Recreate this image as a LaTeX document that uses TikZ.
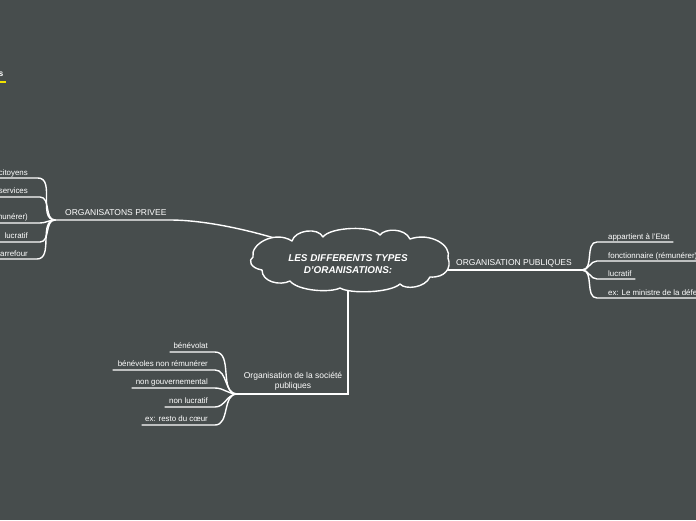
\documentclass[tikz,border=0pt]{standalone}
\usepackage{fontspec}
\setmainfont{Liberation Sans}
\definecolor{bg}{HTML}{474D4D}
\definecolor{mmyellow}{HTML}{F2E200}
\pgfdeclarelayer{bglayer}
\pgfdeclarelayer{edges}
\pgfsetlayers{bglayer,edges,main}
\begin{document}
\begin{tikzpicture}[x=1pt,y=-1pt,
  conn/.style={draw=white, line width=1.4pt, line cap=round},
  leaf/.style={text=white, font=\fontsize{7.9}{9}\selectfont, inner sep=0pt},
  mainlbl/.style={text=white, font=\fontsize{8.5}{10}\selectfont, inner sep=0pt, align=center},
  cloudline/.style={draw=white, fill=bg, line width=1.4pt, line join=round},
  rootlbl/.style={text=white, inner sep=0pt, align=center,
    font=\bfseries\itshape\fontsize{9.9}{11.5}\selectfont}]
\useasboundingbox (0,0) rectangle (696,520);
\begin{pgfonlayer}{bglayer}
\fill[bg] (0,0) rectangle (696,520);
\end{pgfonlayer}
\clip (0,0) rectangle (696,520);

% top-left fragment
\node[text=white, font=\bfseries\fontsize{8.5}{10}\selectfont, inner sep=0pt, anchor=base east] (frag) at (3.5,76) {s};
\coordinate (ya) at (0,82);
\coordinate (yb) at (6,82);
\draw[draw=mmyellow, line width=2pt] (ya) -- (yb);

% root cloud
\draw[cloudline] (253,257)
  .. controls (250,244) and (275,230) .. (292,241)
  .. controls (295,230) and (318,227) .. (323,237)
  .. controls (330,227) and (372,225) .. (380,235)
  .. controls (385,228) and (405,228) .. (410,239)
  .. controls (430,232) and (452,245) .. (448,258)
  .. controls (452,268) and (445,278) .. (430,277)
  .. controls (425,288) and (405,290) .. (400,284)
  .. controls (390,293) and (350,294) .. (340,288)
  .. controls (330,293) and (298,291) .. (290,281)
  .. controls (280,286) and (262,282) .. (262,270)
  .. controls (250,268) and (248,260) .. (253,257) -- cycle;
\node[rootlbl] (root) at (348,264) {LES DIFFERENTS TYPES\\D'ORANISATIONS:};

% ---------- left branch ----------
\coordinate (jL) at (55,220);
\coordinate (kL) at (170,220);
\node[mainlbl, anchor=base west] (privee) at (65,215) {ORGANISATONS PRIVEE};
\node[leaf, anchor=base east] (l1) at (28,175) {citoyens};
\node[leaf, anchor=base east] (l2) at (28,193) {services};
\node[leaf, anchor=base east] (l3) at (28,219) {(rémunérer)};
\node[leaf, anchor=base east] (l4) at (28,238) {lucratif};
\node[leaf, anchor=base east] (l5) at (28,256) {carrefour};
\coordinate (l1a) at (-2,178); \coordinate (l1b) at (38,178);
\coordinate (l2a) at (-2,197); \coordinate (l2b) at (40,197);
\coordinate (l3a) at (-2,223); \coordinate (l3b) at (40,223);
\coordinate (l4a) at (-2,242); \coordinate (l4b) at (40,242);
\coordinate (l5a) at (-2,259); \coordinate (l5b) at (37,259);

% ---------- right branch ----------
\coordinate (jR) at (582,270);
\node[mainlbl, anchor=base west] (publ) at (456,265) {ORGANISATION PUBLIQUES};
\node[leaf, anchor=base west] (r1) at (608,239) {appartient à l'Etat};
\node[leaf, anchor=base west] (r2) at (608,258) {fonctionnaire (rémunérer)};
\node[leaf, anchor=base west] (r3) at (608,276) {lucratif};
\node[leaf, anchor=base west] (r4) at (608,295) {ex: Le ministre de la défense};
\coordinate (r1a) at (597,242); \coordinate (r1b) at (673,242);
\coordinate (r2a) at (597,261); \coordinate (r2b) at (700,261);
\coordinate (r3a) at (597,279); \coordinate (r3b) at (635,279);
\coordinate (r4a) at (597,298); \coordinate (r4b) at (700,298);

% ---------- bottom branch ----------
\coordinate (jB) at (237,394);
\node[mainlbl, anchor=center] (soc) at (293,381) {Organisation de la société\\publiques};
\node[leaf, anchor=base east] (b1) at (208,348) {bénévolat};
\node[leaf, anchor=base east] (b2) at (208,366) {bénévoles non rémunérer};
\node[leaf, anchor=base east] (b3) at (208,384) {non gouvernemental};
\node[leaf, anchor=base east] (b4) at (208,403) {non lucratif};
\node[leaf, anchor=base east] (b5) at (208,421) {ex: resto du c\oe ur};
\coordinate (b1a) at (170,352); \coordinate (b1b) at (215,352);
\coordinate (b2a) at (113,370); \coordinate (b2b) at (215,370);
\coordinate (b3a) at (132,388); \coordinate (b3b) at (215,388);
\coordinate (b4a) at (165,407); \coordinate (b4b) at (215,407);
\coordinate (b5a) at (142,425); \coordinate (b5b) at (215,425);

\begin{pgfonlayer}{edges}
% main connectors
\draw[conn] (root.center) .. controls (260,228) and (200,220) .. (kL) -- (jL);
\draw[conn] (root.center |- jR) -- (jR);
\draw[conn] (root.center) -- (root.center |- jB) -- (jB);
% left children
\foreach \i in {1,...,5}{
  \draw[conn] (l\i a) -- (l\i b) to[out=0,in=180] (jL);
}
% right children
\foreach \i in {1,...,4}{
  \draw[conn] (jR) to[out=0,in=180] (r\i a) -- (r\i b);
}
% bottom children
\foreach \i in {1,...,5}{
  \draw[conn] (b\i a) -- (b\i b) to[out=0,in=180] (jB);
}
\end{pgfonlayer}
\end{tikzpicture}
\end{document}
